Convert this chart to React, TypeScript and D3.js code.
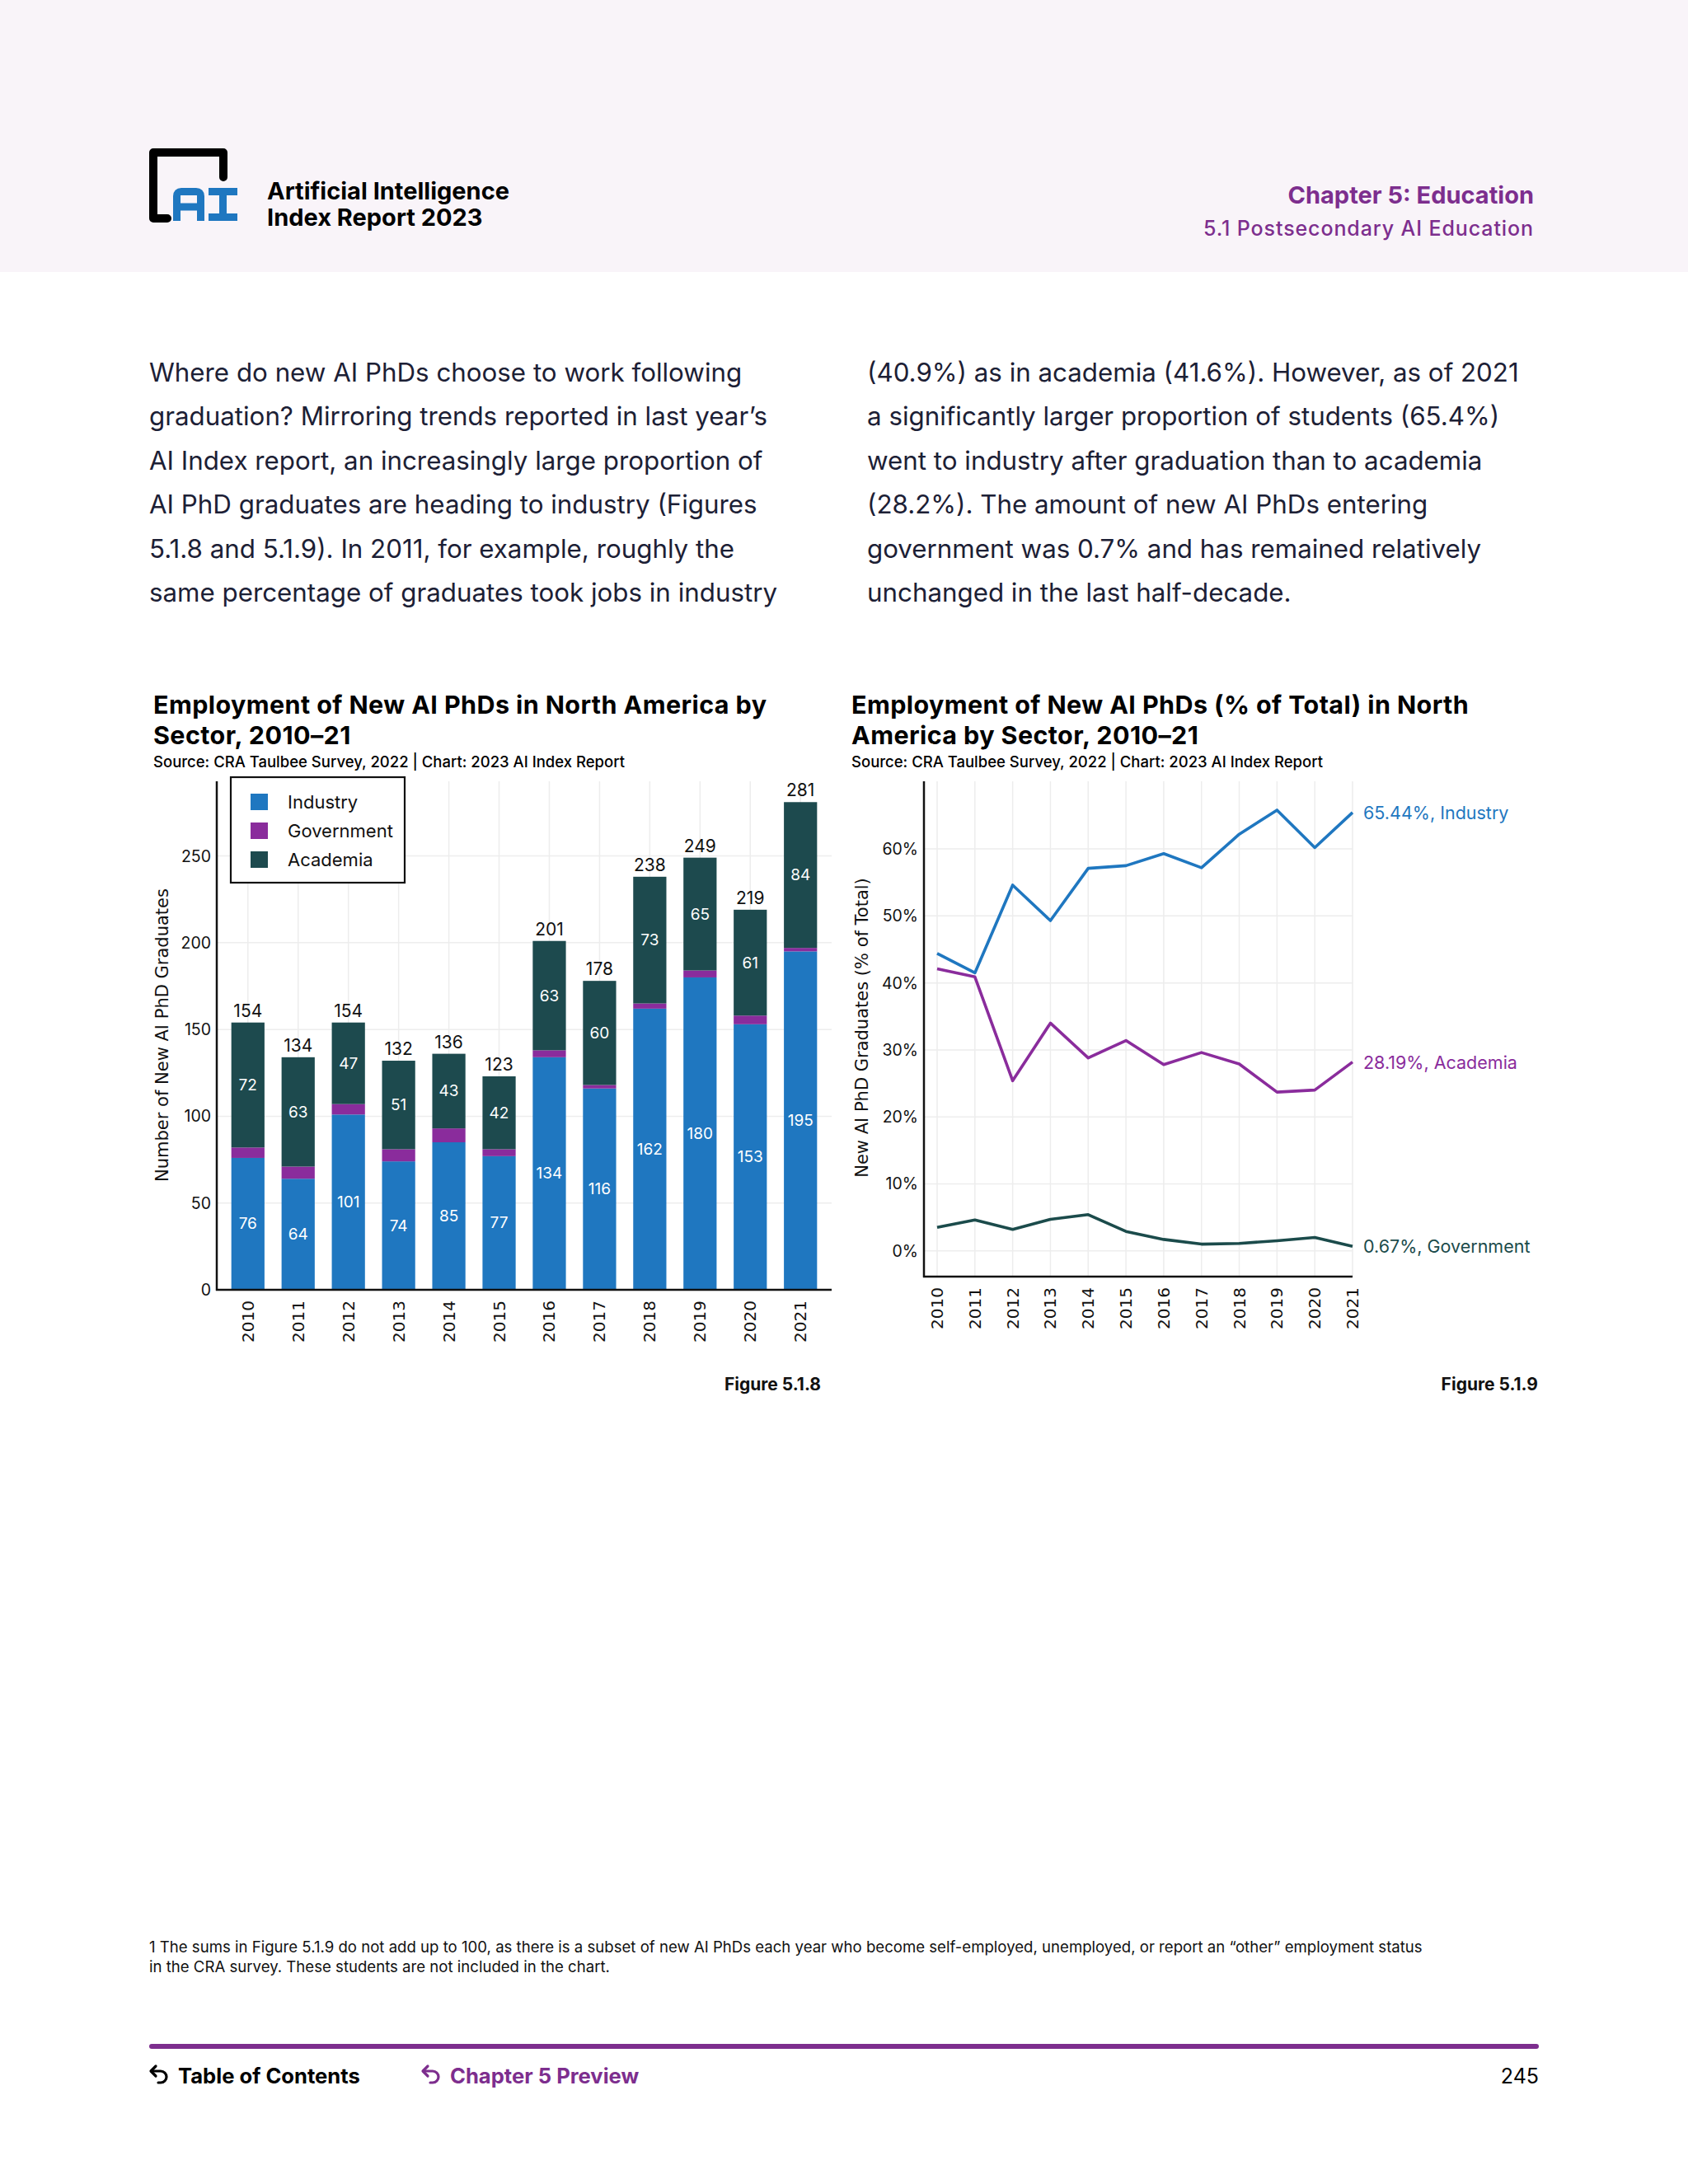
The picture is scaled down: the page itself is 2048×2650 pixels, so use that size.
import * as d3 from 'd3'

// ---- data ----
const years = ['2010', '2011', '2012', '2013', '2014', '2015', '2016', '2017', '2018', '2019', '2020', '2021']

// Figure 5.1.8 counts
const industryCount = [76, 64, 101, 74, 85, 77, 134, 116, 162, 180, 153, 195]
const governmentCount = [6, 7, 6, 7, 8, 4, 4, 2, 3, 4, 5, 2]
const academiaCount = [72, 63, 47, 51, 43, 42, 63, 60, 73, 65, 61, 84]
const countTicks = [0, 50, 100, 150, 200, 250]

// Figure 5.1.9 shares (% of total)
const industryPct = [44.4, 41.5, 54.6, 49.3, 57.1, 57.5, 59.3, 57.2, 62.2, 65.8, 60.2, 65.44]
const academiaPct = [42.1, 40.9, 25.4, 34.0, 28.8, 31.4, 27.8, 29.6, 27.9, 23.7, 24.0, 28.19]
const governmentPct = [3.5, 4.6, 3.2, 4.7, 5.4, 2.9, 1.7, 1.0, 1.1, 1.5, 2.0, 0.67]
const pctTicks = [0, 10, 20, 30, 40, 50, 60]

const sectors = ['Industry', 'Government', 'Academia']

const leftTitle = ['Employment of New AI PhDs in North America by', 'Sector, 2010–21']
const rightTitle = ['Employment of New AI PhDs (% of Total) in North', 'America by Sector, 2010–21']
const sourceText = 'Source: CRA Taulbee Survey, 2022 | Chart: 2023 AI Index Report'

const leftBody = [
  'Where do new AI PhDs choose to work following',
  'graduation? Mirroring trends reported in last year’s',
  'AI Index report, an increasingly large proportion of',
  'AI PhD graduates are heading to industry (Figures',
  '5.1.8 and 5.1.9). In 2011, for example, roughly the',
  'same percentage of graduates took jobs in industry',
]
const rightBody = [
  '(40.9%) as in academia (41.6%). However, as of 2021',
  'a significantly larger proportion of students (65.4%)',
  'went to industry after graduation than to academia',
  '(28.2%). The amount of new AI PhDs entering',
  'government was 0.7% and has remained relatively',
  'unchanged in the last half-decade.',
]
const footnote = [
  '1 The sums in Figure 5.1.9 do not add up to 100, as there is a subset of new AI PhDs each year who become self-employed, unemployed, or report an “other” employment status',
  'in the CRA survey. These students are not included in the chart.',
]

const BLUE = '#1f77c0'
const PURPLE = '#8a2c9c'
const TEAL = '#1d4a4e'
const LINE_TEAL = '#1b4b4b'
const BRAND = '#7d2e8e'
const FONT = 'Inter, sans-serif'
const WIDE = '"DejaVu Sans", sans-serif'
const GRID = '#ededed'

const sectorColor: Record<string, string> = {
  Industry: BLUE,
  Government: PURPLE,
  Academia: TEAL,
}

function BackArrow({ x, y, color }: { x: number; y: number; color: string }) {
  return (
    <g transform={`translate(${x},${y})`} fill="none" stroke={color} strokeWidth={3.2} strokeLinecap="round" strokeLinejoin="round">
      <path d="M3 7 H14 A7 7 0 0 1 14 21 H11" />
      <path d="M8 1 L2 7 L8 13" />
    </g>
  )
}

function ChartTitle({ x, lines }: { x: number; lines: string[] }) {
  return (
    <g fontFamily={FONT} fill="#000">
      {lines.map((l, i) => (
        <text key={i} x={x} y={866 + i * 37} fontSize={30.5} fontWeight={700} letterSpacing={0.4}>{l}</text>
      ))}
      <text x={x} y={931} fontSize={18.5} fontWeight={500}>{sourceText}</text>
    </g>
  )
}

function BarChart() {
  const x = d3.scaleBand<string>().domain(years).range([263, 1009]).paddingInner(0.34).paddingOuter(0.29)
  const y = d3.scaleLinear().domain([0, 293]).range([1565, 948])

  const rows = years.map((year, i) => ({
    year,
    Industry: industryCount[i],
    Government: governmentCount[i],
    Academia: academiaCount[i],
  }))
  const series = d3.stack<any>().keys(sectors)(rows)

  return (
    <g>
      {/* grid */}
      {countTicks.filter(t => t > 0).map(t => (
        <line key={'h' + t} x1={263} x2={1009} y1={y(t)} y2={y(t)} stroke={GRID} strokeWidth={1.5} />
      ))}
      {years.map(yr => (
        <line key={'v' + yr} x1={x(yr)! + x.bandwidth() / 2} x2={x(yr)! + x.bandwidth() / 2} y1={948} y2={1565} stroke={GRID} strokeWidth={1.5} />
      ))}

      {/* bars */}
      {series.map(s => (
        <g key={s.key} fill={sectorColor[s.key]}>
          {s.map((d, i) => (
            <rect key={i} x={x(years[i])} y={y(d[1])} width={x.bandwidth()} height={y(d[0]) - y(d[1])} />
          ))}
        </g>
      ))}

      {/* segment labels */}
      {series.filter(s => s.key !== 'Government').map(s => (
        <g key={'l' + s.key} fill="#fff" fontFamily={FONT} fontSize={19} textAnchor="middle" dominantBaseline="central">
          {s.map((d, i) => (
            <text key={i} x={x(years[i])! + x.bandwidth() / 2} y={y((d[0] + d[1]) / 2)}>
              {d[1] - d[0]}
            </text>
          ))}
        </g>
      ))}

      {/* totals */}
      <g fill="#111" fontFamily={FONT} fontSize={21} textAnchor="middle">
        {years.map((yr, i) => {
          const total = industryCount[i] + governmentCount[i] + academiaCount[i]
          return (
            <text key={yr} x={x(yr)! + x.bandwidth() / 2} y={y(total) - 7}>
              {total}
            </text>
          )
        })}
      </g>

      {/* axes */}
      <line x1={263} x2={263} y1={948} y2={1566} stroke="#111" strokeWidth={2.5} />
      <line x1={262} x2={1009} y1={1565} y2={1565} stroke="#111" strokeWidth={2.5} />
      <g fontFamily={FONT} fontSize={19.5} fill="#111" textAnchor="end" dominantBaseline="central">
        {countTicks.map(t => (
          <text key={t} x={256} y={y(t)}>{t}</text>
        ))}
      </g>
      <g fontFamily={WIDE} fontSize={20} fill="#111" textAnchor="end" dominantBaseline="central">
        {years.map(yr => (
          <text key={yr} transform={`translate(${x(yr)! + x.bandwidth() / 2},1578) rotate(-90)`}>{yr}</text>
        ))}
      </g>
      <text transform="translate(197,1256) rotate(-90)" fontFamily={WIDE} fontSize={21} fill="#111" textAnchor="middle" dominantBaseline="central">
        Number of New AI PhD Graduates
      </text>

      {/* legend */}
      <rect x={280} y={943} width={211} height={128} fill="#fff" stroke="#111" strokeWidth={2.2} />
      {sectors.map((s, i) => (
        <g key={s}>
          <rect x={304} y={963 + i * 35} width={21} height={20} fill={sectorColor[s]} />
          <text x={349} y={973 + i * 35} fontFamily={FONT} fontSize={22} fill="#111" dominantBaseline="central">{s}</text>
        </g>
      ))}
    </g>
  )
}

function LineChart() {
  const x = d3.scalePoint<string>().domain(years).range([1137, 1641])
  const y = d3.scaleLinear().domain([-3.85, 70.1]).range([1549, 948])
  const line = d3.line<number>().x((_, i) => x(years[i])!).y(d => y(d))

  const lines = [
    { name: 'Industry', values: industryPct, color: BLUE },
    { name: 'Academia', values: academiaPct, color: PURPLE },
    { name: 'Government', values: governmentPct, color: LINE_TEAL },
  ]

  return (
    <g>
      {pctTicks.map(t => (
        <line key={'h' + t} x1={1121} x2={1641} y1={y(t)} y2={y(t)} stroke={GRID} strokeWidth={1.5} />
      ))}
      {years.map(yr => (
        <line key={'v' + yr} x1={x(yr)} x2={x(yr)} y1={948} y2={1549} stroke={GRID} strokeWidth={1.5} />
      ))}

      {lines.map(l => (
        <path key={l.name} d={line(l.values)!} fill="none" stroke={l.color} strokeWidth={3.6} strokeLinejoin="round" />
      ))}
      {lines.map(l => {
        const last = l.values[l.values.length - 1]
        return (
          <text key={'t' + l.name} x={1654} y={y(last)} fontFamily={FONT} fontSize={21.5} fill={l.color} dominantBaseline="central">
            {`${last.toFixed(2)}%, ${l.name}`}
          </text>
        )
      })}

      <line x1={1121} x2={1121} y1={948} y2={1550} stroke="#111" strokeWidth={2.5} />
      <line x1={1120} x2={1641} y1={1549} y2={1549} stroke="#111" strokeWidth={2.5} />
      <g fontFamily={FONT} fontSize={19.5} fill="#111" textAnchor="end" dominantBaseline="central">
        {pctTicks.map(t => (
          <text key={t} x={1114} y={y(t)}>{t}%</text>
        ))}
      </g>
      <g fontFamily={WIDE} fontSize={20} fill="#111" textAnchor="end" dominantBaseline="central">
        {years.map(yr => (
          <text key={yr} transform={`translate(${x(yr)},1562) rotate(-90)`}>{yr}</text>
        ))}
      </g>
      <text transform="translate(1046,1247) rotate(-90)" fontFamily={WIDE} fontSize={21} fill="#111" textAnchor="middle" dominantBaseline="central">
        New AI PhD Graduates (% of Total)
      </text>
    </g>
  )
}

export default function App() {
  return (
    <svg width={2048} height={2650} style={{ position: 'absolute', left: 0, top: 0, background: '#fff' }}>
      {/* header */}
      <rect x={0} y={0} width={2048} height={330} fill="#f9f4f9" />
      <g>
        <polyline points="203,265 186,265 186,185 271,185 271,215" fill="none" stroke="#000" strokeWidth={10} strokeLinejoin="round" strokeLinecap="round" />
        <g fill="none" stroke={BLUE} strokeWidth={9}>
          <path d="M214.5 268 V238 Q214.5 232.5 220 232.5 H238 Q243.5 232.5 243.5 238 V268" />
          <path d="M214.5 251 H243.5" />
          <path d="M253 232.5 H288 M270.5 232.5 V263.5 M253 263.5 H288" />
        </g>
      </g>
      <g fontFamily={FONT} fontWeight={700} fontSize={29} fill="#000">
        <text x={324} y={242}>Artificial Intelligence</text>
        <text x={324} y={274}>Index Report 2023</text>
      </g>
      <text x={1861} y={247} textAnchor="end" fontFamily={FONT} fontWeight={700} fontSize={29} fill={BRAND}>Chapter 5: Education</text>
      <text x={1861} y={286} textAnchor="end" fontFamily={FONT} fontWeight={500} fontSize={25} letterSpacing={0.9} fill={BRAND}>5.1 Postsecondary AI Education</text>

      {/* body text */}
      <g fontFamily={FONT} fontSize={31.3} fill="#1c2035">
        {leftBody.map((t, i) => (
          <text key={'a' + i} x={181} y={463 + i * 53.4}>{t}</text>
        ))}
        {rightBody.map((t, i) => (
          <text key={'b' + i} x={1052} y={463 + i * 53.4}>{t}</text>
        ))}
      </g>

      {/* chart titles */}
      <ChartTitle x={186} lines={leftTitle} />
      <ChartTitle x={1033} lines={rightTitle} />

      <BarChart />
      <LineChart />

      <g fontFamily={FONT} fontWeight={700} fontSize={21} fill="#111" textAnchor="end">
        <text x={996} y={1687}>Figure 5.1.8</text>
        <text x={1866} y={1687}>Figure 5.1.9</text>
      </g>

      {/* footnote */}
      <g fontFamily={FONT} fontSize={18.6} fill="#111">
        {footnote.map((t, i) => (
          <text key={i} x={181} y={2369 + i * 24}>{t}</text>
        ))}
      </g>

      {/* footer */}
      <line x1={184} x2={1864} y1={2483} y2={2483} stroke={BRAND} strokeWidth={6} strokeLinecap="round" />
      <BackArrow x={181} y={2506} color="#000" />
      <text x={216} y={2528} fontFamily={FONT} fontWeight={700} fontSize={25.6} fill="#000">Table of Contents</text>
      <BackArrow x={511} y={2506} color={BRAND} />
      <text x={546} y={2528} fontFamily={FONT} fontWeight={700} fontSize={25.6} fill={BRAND}>Chapter 5 Preview</text>
      <text x={1867} y={2528} textAnchor="end" fontFamily={FONT} fontSize={25} fill="#000">245</text>
    </svg>
  )
}
